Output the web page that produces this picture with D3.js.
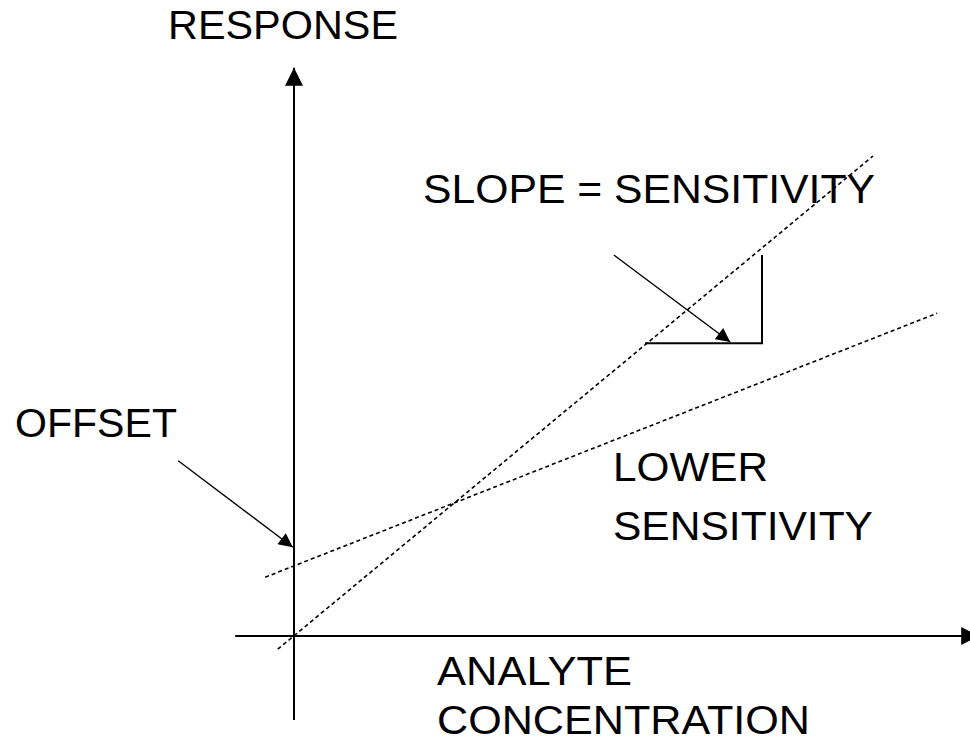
<!DOCTYPE html>
<html>
<head>
<meta charset="utf-8">
<script src="https://cdn.jsdelivr.net/npm/d3@7"></script>
<style>
  html, body { margin: 0; padding: 0; background: #fff; }
  svg { display: block; }
  text { font-family: "Liberation Sans", Arial, sans-serif; fill: #000; }
</style>
</head>
<body>
<div id="chart-area"></div>
<script>
const width = 970;
const height = 743;

// concept units: origin where the axes cross
const steepLine = [[-0.27, -0.22], [9.65, 8.0]];
const shallowLine = [[-0.48, 0.98], [10.72, 5.38]];
const slopeStep = [[5.85, 4.88], [7.8, 4.88], [7.8, 6.35]];
const offsetArrow = [[-1.93, 2.92], [-0.02, 1.48]];
const slopeArrow = [[5.33, 6.35], [7.27, 4.9]];
const xAxisExtent = [-0.98, 11.42];
const yAxisExtent = [-1.4, 9.47];

const labels = ["RESPONSE", "SLOPE = SENSITIVITY", "OFFSET", "LOWER", "SENSITIVITY", "ANALYTE", "CONCENTRATION"];

const x = d3.scaleLinear().domain([0, 10]).range([294, 894]);
const y = d3.scaleLinear().domain([0, 10]).range([636, 36]);

const svg = d3.select("#chart-area")
    .append("svg")
    .attr("width", width)
    .attr("height", height);

const defs = svg.append("defs");
defs.append("marker")
    .attr("id", "head")
    .attr("viewBox", "0 0 10 10")
    .attr("refX", 10)
    .attr("refY", 5)
    .attr("markerWidth", 16)
    .attr("markerHeight", 14)
    .attr("markerUnits", "userSpaceOnUse")
    .attr("orient", "auto")
    .append("path")
    .attr("d", "M0,0 L10,5 L0,10 Z")
    .attr("fill", "#000");
defs.append("marker")
    .attr("id", "axishead")
    .attr("viewBox", "0 0 10 10")
    .attr("refX", 10)
    .attr("refY", 5)
    .attr("markerWidth", 18)
    .attr("markerHeight", 18)
    .attr("markerUnits", "userSpaceOnUse")
    .attr("orient", "auto")
    .append("path")
    .attr("d", "M0,0 L10,5 L0,10 Z")
    .attr("fill", "#000");

const line = d3.line().x(d => x(d[0])).y(d => y(d[1]));

// axes
svg.append("path")
    .attr("d", line([[xAxisExtent[0], 0], [xAxisExtent[1], 0]]))
    .attr("stroke", "#000").attr("stroke-width", 2)
    .attr("marker-end", "url(#axishead)");
svg.append("path")
    .attr("d", line([[0, yAxisExtent[0]], [0, yAxisExtent[1]]]))
    .attr("stroke", "#000").attr("stroke-width", 2)
    .attr("marker-end", "url(#axishead)");

// the two response lines
svg.selectAll("path.resp")
    .data([steepLine, shallowLine])
    .enter().append("path")
    .attr("class", "resp")
    .attr("d", line)
    .attr("fill", "none")
    .attr("stroke", "#000")
    .attr("stroke-width", 1.6)
    .attr("stroke-dasharray", "4,3");

// slope triangle
svg.append("path")
    .attr("d", line(slopeStep))
    .attr("fill", "none")
    .attr("stroke", "#000")
    .attr("stroke-width", 2);

// pointer arrows
svg.selectAll("path.arrow")
    .data([offsetArrow, slopeArrow])
    .enter().append("path")
    .attr("class", "arrow")
    .attr("d", line)
    .attr("stroke", "#000")
    .attr("stroke-width", 1.4)
    .attr("marker-end", "url(#head)");

// labels: [text, left, baseline, width]
const place = [
    [labels[0], 168, 39, 230],
    [labels[1], 423, 203, 452],
    [labels[2], 15, 437, 162],
    [labels[3], 613, 481, 155],
    [labels[4], 613, 540, 260],
    [labels[5], 437, 685, 195],
    [labels[6], 437, 734, 373]
];

svg.selectAll("text.lbl")
    .data(place)
    .enter().append("text")
    .attr("class", "lbl")
    .attr("x", d => d[1])
    .attr("y", d => d[2])
    .attr("textLength", d => d[3])
    .attr("lengthAdjust", "spacingAndGlyphs")
    .style("font-size", "40px")
    .text(d => d[0]);
</script>
</body>
</html>
